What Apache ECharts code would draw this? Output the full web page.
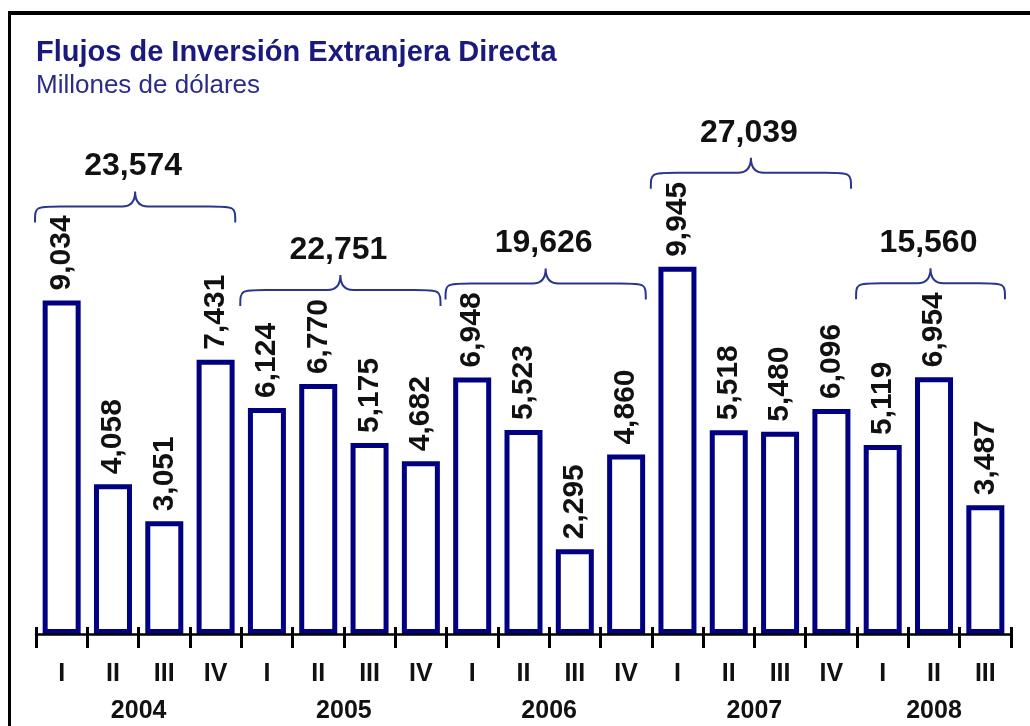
<!DOCTYPE html>
<html>
<head>
<meta charset="utf-8">
<title>Flujos de Inversión Extranjera Directa</title>
<script src="https://cdn.jsdelivr.net/npm/echarts@6/dist/echarts.min.js"></script>
<style>
  html, body { margin: 0; padding: 0; background: #fff; }
  #chart { width: 1030px; height: 726px; }
</style>
</head>
<body>
<div id="chart"></div>
<script>
// trimestres
const quarters = ['I', 'II', 'III', 'IV', 'I', 'II', 'III', 'IV', 'I', 'II', 'III', 'IV',
  'I', 'II', 'III', 'IV', 'I', 'II', 'III']
// millones de dolares por trimestre
const flows = [9034, 4058, 3051, 7431, 6124, 6770, 5175, 4682, 6948, 5523, 2295, 4860,
  9945, 5518, 5480, 6096, 5119, 6954, 3487]
// años y totales anuales
const years = ['2004', '2005', '2006', '2007', '2008']
const yearTotals = [23574, 22751, 19626, 27039, 15560]
const yearStart = [0, 4, 8, 12, 16]
const yearEnd = [3, 7, 11, 15, 18]

const navy = '#000080'
const braceColor = '#2a3590'
const fontFamily = 'Arial, "Liberation Sans", Helvetica, sans-serif'

const fmt = v => v.toLocaleString('en-US')

// one item per year: [start, end, max of the year, total, year index]
const groupData = years.map((y, i) => {
  const vals = flows.slice(yearStart[i], yearEnd[i] + 1)
  return [yearStart[i], yearEnd[i], Math.max(...vals), yearTotals[i], i]
})

function renderYear(params, api) {
  const start = api.value(0)
  const end = api.value(1)
  const band = api.size([1, 0])[0]
  const left = api.coord([start, 0])[0] - band / 2
  const right = api.coord([end, 0])[0] + band / 2
  const base = api.coord([start, 0])[1]
  const top = api.coord([start, api.value(2)])[1]

  const x1 = left - 1
  const x2 = right - 6
  const xm = (x1 + x2) / 2
  const yt = top - 78 // brace tips
  const ym = yt - 16
  const yp = yt - 31

  const path = 'M' + x1 + ' ' + yt +
    ' C' + x1 + ' ' + ym + ' ' + x1 + ' ' + ym + ' ' + (x1 + 26) + ' ' + ym +
    ' L' + (xm - 13) + ' ' + ym +
    ' C' + (xm - 3) + ' ' + ym + ' ' + xm + ' ' + (yp + 8) + ' ' + xm + ' ' + yp +
    ' C' + xm + ' ' + (yp + 8) + ' ' + (xm + 3) + ' ' + ym + ' ' + (xm + 13) + ' ' + ym +
    ' L' + (x2 - 26) + ' ' + ym +
    ' C' + x2 + ' ' + ym + ' ' + x2 + ' ' + ym + ' ' + x2 + ' ' + yt

  return {
    type: 'group',
    children: [
      {
        type: 'path',
        shape: { pathData: path },
        style: { fill: null, stroke: braceColor, lineWidth: 2 }
      },
      {
        type: 'text',
        style: {
          x: xm - 2, y: yp - 25,
          text: fmt(api.value(3)),
          align: 'center', verticalAlign: 'middle',
          font: 'bold 32px ' + fontFamily,
          fill: '#111'
        }
      },
      {
        type: 'text',
        style: {
          x: (left + right) / 2, y: base + 77,
          text: years[api.value(4)],
          align: 'center', verticalAlign: 'middle',
          font: 'bold 25px ' + fontFamily,
          fill: '#111'
        }
      }
    ]
  }
}

const chart = echarts.init(document.getElementById('chart'))

chart.setOption({
  animation: false,
  title: {
    text: 'Flujos de Inversión Extranjera Directa',
    subtext: 'Millones de dólares',
    left: 31,
    top: 33,
    itemGap: 6,
    textStyle: { color: '#1a1a7e', fontSize: 29, fontWeight: 'bold', fontFamily: fontFamily },
    subtextStyle: { color: '#2b2b8c', fontSize: 26, fontFamily: fontFamily }
  },
  // marco
  graphic: [
    { type: 'rect', shape: { x: 8, y: 11, width: 1030, height: 4 }, style: { fill: '#000' } },
    { type: 'rect', shape: { x: 8, y: 11, width: 3, height: 726 }, style: { fill: '#000' } }
  ],
  grid: {
    left: 36,
    right: 19,
    top: 47,
    bottom: 92
  },
  xAxis: [
    {
      type: 'category',
      data: quarters,
      axisLine: { lineStyle: { color: '#000', width: 2.5 } },
      axisTick: { show: true, length: 14, lineStyle: { color: '#000', width: 3 } },
      axisLabel: {
        margin: 28,
        color: '#111',
        fontSize: 25,
        fontWeight: 'bold',
        fontFamily: fontFamily
      },
      z: 5
    },
    {
      // inner half of the ticks
      type: 'category',
      data: quarters,
      position: 'bottom',
      axisLine: { show: false },
      axisTick: { show: true, inside: true, length: 7, lineStyle: { color: '#000', width: 3 } },
      axisLabel: { show: false },
      z: 5
    }
  ],
  yAxis: {
    type: 'value',
    min: 0,
    max: 15900,
    show: false
  },
  series: [
    {
      name: 'Flujos',
      type: 'bar',
      data: flows,
      barWidth: 38,
      itemStyle: { color: '#fff', borderColor: navy, borderWidth: 5 },
      label: {
        show: true,
        position: 'top',
        rotate: 90,
        align: 'left',
        verticalAlign: 'middle',
        distance: 10,
        formatter: p => fmt(p.value),
        color: '#111',
        fontSize: 30,
        fontWeight: 'bold',
        fontFamily: fontFamily
      },
      z: 1
    },
    {
      name: 'Años',
      type: 'custom',
      renderItem: renderYear,
      data: groupData,
      clip: false,
      silent: true,
      z: 3
    }
  ]
})
</script>
</body>
</html>
